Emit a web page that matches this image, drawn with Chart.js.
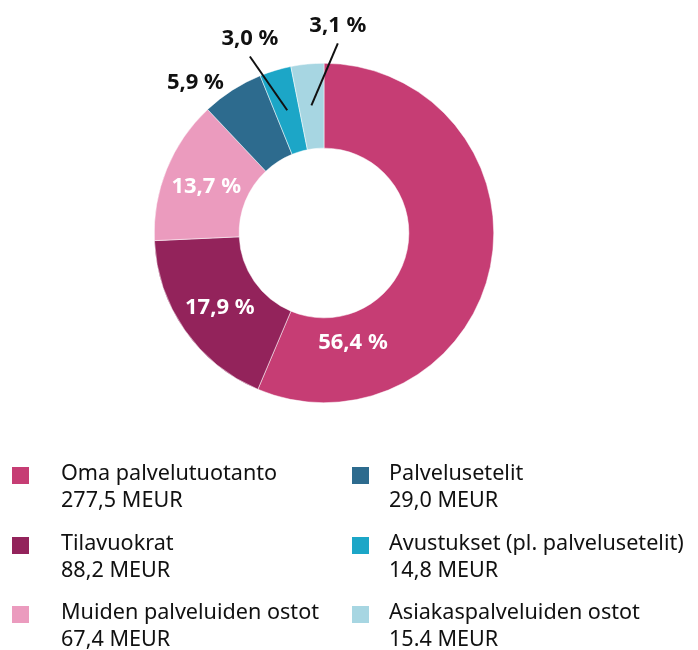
<!DOCTYPE html>
<html>
<head>
<meta charset="utf-8">
<script src="https://cdn.jsdelivr.net/npm/chart.js@4"></script>
<style>
  html, body { margin: 0; padding: 0; background: #fff; }
  body { width: 698px; height: 650px; position: relative; overflow: hidden; font-family: "Noto Sans", "Open Sans", sans-serif; }
  #wrap { position: absolute; left: 0; top: 0; width: 698px; height: 440px; }
  #legend { position: absolute; left: 0; top: 0; width: 698px; height: 650px; pointer-events: none; }
  .sw { position: absolute; width: 17px; height: 17px; }
  .txt { position: absolute; white-space: nowrap; font-size: 21.6px; line-height: 27px; color: #111; }
</style>
</head>
<body>
<div id="wrap"><canvas id="c" width="698" height="440"></canvas></div>
<div id="legend"></div>
<script>
// ---- data ----
const categories = [
  "Oma palvelutuotanto",
  "Tilavuokrat",
  "Muiden palveluiden ostot",
  "Palvelusetelit",
  "Avustukset (pl. palvelusetelit)",
  "Asiakaspalveluiden ostot"
];
const valuesMEUR = [277.5, 88.2, 67.4, 29.0, 14.8, 15.4];
const valueLabels = ["277,5 MEUR", "88,2 MEUR", "67,4 MEUR", "29,0 MEUR", "14,8 MEUR", "15.4 MEUR"];
const percentLabels = ["56,4 %", "17,9 %", "13,7 %", "5,9 %", "3,0 %", "3,1 %"];

// ---- styles ----
const colors = ["#c63d74", "#93235b", "#eb9bbe", "#2d6b8e", "#1ca6c7", "#a7d6e2"];
const labelColors = ["#ffffff", "#ffffff", "#ffffff", "#111111", "#111111", "#111111"];
// polar placement relative to each arc: r = fraction of outer radius, shift = degrees added to mid-angle
const labelPlacement = [
  { mode: "in", r: 0.666, shift: 63.7 },
  { mode: "in", r: 0.755, shift: -0.8 },
  { mode: "in", r: 0.745, shift: -0.7 },
  { mode: "out", r: 1.164, shift: -7.9 },
  { mode: "leader", r: 1.128, shift: -6.1, from: 0.755 },
  { mode: "leader", r: 1.12, shift: 9.8, from: 0.755 }
];

const labelPlugin = {
  id: "pctLabels",
  afterDatasetsDraw(chart) {
    const ctx = chart.ctx;
    const meta = chart.getDatasetMeta(0);
    ctx.save();
    ctx.font = "bold 22px 'Noto Sans', 'Open Sans', sans-serif";
    ctx.textAlign = "center";
    meta.data.forEach((arc, i) => {
      const p = arc.getProps(["x", "y", "startAngle", "endAngle", "outerRadius", "innerRadius"], true);
      const mid = (p.startAngle + p.endAngle) / 2;
      const pl = labelPlacement[i];
      const a = mid + pl.shift * Math.PI / 180;
      const px = p.x + Math.cos(a) * p.outerRadius * pl.r;
      const py = p.y + Math.sin(a) * p.outerRadius * pl.r;
      ctx.fillStyle = labelColors[i];
      if (pl.mode === "leader") {
        const sx = p.x + Math.cos(mid) * p.outerRadius * pl.from;
        const sy = p.y + Math.sin(mid) * p.outerRadius * pl.from;
        ctx.strokeStyle = "#111";
        ctx.lineWidth = 2;
        ctx.beginPath();
        ctx.moveTo(sx, sy);
        ctx.lineTo(px, py);
        ctx.stroke();
        ctx.textBaseline = "alphabetic";
        ctx.fillText(percentLabels[i], px, py - 11);
      } else {
        ctx.textBaseline = "middle";
        ctx.fillText(percentLabels[i], px, py);
      }
    });
    ctx.restore();
  }
};

new Chart(document.getElementById("c"), {
  type: "doughnut",
  data: {
    labels: categories,
    datasets: [{
      data: valuesMEUR,
      backgroundColor: colors,
      borderColor: "#ffffff",
      borderWidth: 0.5,
      hoverBorderWidth: 0.5,
      hoverOffset: 0
    }]
  },
  options: {
    responsive: false,
    animation: false,
    cutout: "50%",
    layout: { padding: { top: 63, left: 154, right: 204, bottom: 37 } },
    plugins: { legend: { display: false }, tooltip: { enabled: false } },
    events: []
  },
  plugins: [labelPlugin]
});

// ---- HTML legend built from the data arrays ----
const legend = document.getElementById("legend");
const colX = [12, 352];
const textX = [61, 389];
const rowY = [467, 537, 606];
categories.forEach((name, i) => {
  const col = Math.floor(i / 3), row = i % 3;
  const sw = document.createElement("div");
  sw.className = "sw";
  sw.style.left = colX[col] + "px";
  sw.style.top = rowY[row] + "px";
  sw.style.background = colors[i];
  legend.appendChild(sw);
  const t = document.createElement("div");
  t.className = "txt";
  t.style.left = textX[col] + "px";
  t.style.top = (rowY[row] - 9) + "px";
  t.innerHTML = name + "<br>" + valueLabels[i];
  legend.appendChild(t);
});
</script>
</body>
</html>
